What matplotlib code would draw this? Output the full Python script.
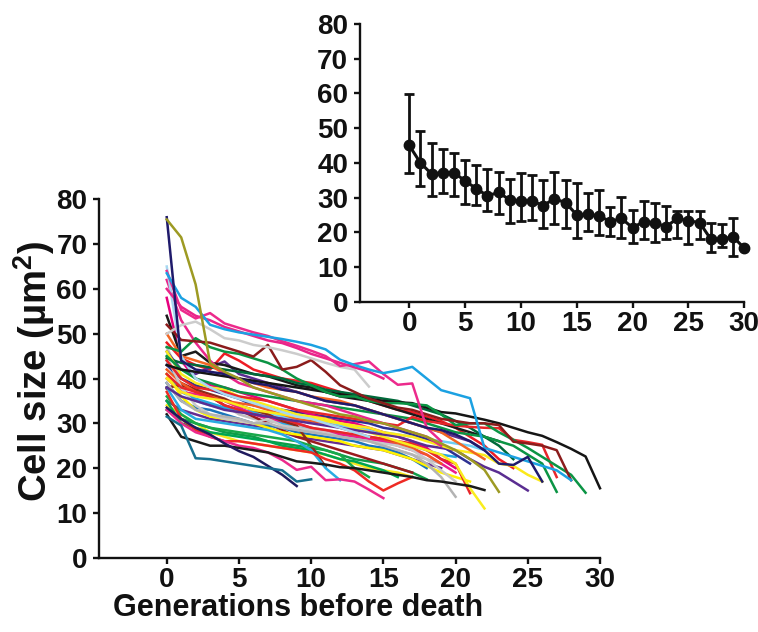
import matplotlib
matplotlib.use("Agg")
import matplotlib.pyplot as plt

plt.rcParams['font.family'] = ['Liberation Sans', 'DejaVu Sans']
plt.rcParams['font.weight'] = 'bold'
plt.rcParams['mathtext.fontset'] = 'custom'
plt.rcParams['mathtext.rm'] = 'Liberation Sans:bold'
plt.rcParams['mathtext.it'] = 'Liberation Sans:bold'
plt.rcParams['mathtext.bf'] = 'Liberation Sans:bold'

# ---------------- data: individual cell traces (size at generations before death) -------------
olive_1   = [75.5, 71.5, 61, 43.5, 41.5, 40, 38, 37, 36, 35, 34, 33, 32, 31.5, 30.5, 30, 29, 28, 27, 25.5, 24, 22, 19.6, 14.7]
navy_1    = [76, 44, 42, 41.5, 41, 40, 39, 38.5, 37.5, 37, 36, 35, 34.5, 34, 33, 32, 31, 30, 29, 28.5, 27.5, 26, 24, 21, 20.7, 22.5, 17]
cyan_1    = [63.5, 58, 56, 52, 51, 50.3, 49.8, 49.3, 48.8, 48.2, 47.5, 46.5, 44.2, 43, 42, 41.2, 41.8, 42.6, 40, 37.4, 36.5, 35.6, 24.5, 23.5, 22.5, 21.5, 20.5, 19.5, 17.3]
pink_1    = [64, 55.3, 53.4, 54.6, 52.3, 51.3, 50.3, 49.5, 48.3, 47.3, 46.2, 45, 42.8, 43.2, 43.8, 41, 38.6, 38.9, 29, 26]
pink_2    = [60, 56, 54, 53, 51.5, 50.5, 49.5, 48.5, 47.9, 46.8, 45.5, 44.5, 43.5, 42.5, 41.5, 40]
gray_1    = [50, 51.9, 52.7, 51, 49, 48.5, 47.5, 47, 46.3, 45.5, 44.5, 43.5, 42.6, 42, 38.2]
brown_1   = [52, 48.6, 48.3, 48, 47, 46, 44.9, 47.5, 42, 42.6, 44.1, 41.5, 38.5, 37, 35.5, 34.5, 33.5, 33, 32, 31, 30.5, 30, 30, 29.6, 25.9, 25.5, 25, 24, 17.3]
green_1   = [47, 46, 49, 47, 46, 45.5, 44.5, 43.5, 42, 40, 38.5, 37, 36, 36, 35, 34.5, 34.5, 34.3, 34, 32, 29.6, 30, 30, 28, 26.3, 24.5, 22.5, 20.5, 18.5, 14.5]
black_1   = [43, 42, 41.5, 41, 40.5, 40, 39.5, 39, 38.5, 38, 37.5, 37, 36.5, 36, 35.5, 35, 34.7, 34.5, 33.5, 32.5, 32.2, 31.5, 30.8, 30, 29, 28, 27.2, 25.8, 24.3, 22.6, 15.5]
teal_1    = [31.5, 29.5, 22.2, 22, 21.5, 21, 20.5, 20, 19.5, 17, 17.5]
navy_2    = [33.5, 31, 29, 27.5, 25.5, 23.8, 22.5, 20.5, 18.5, 16]
black_2   = [32, 27, 26, 25, 25, 24.5, 24, 23.5, 22.5, 21.5, 21.2, 20.8, 20.2, 20, 19.5, 19, 18.5, 18, 17.3, 17, 16.5, 16, 15.1]
pink_3    = [33, 30, 28, 27, 26, 25, 24.5, 23.5, 21.8, 19.6, 20.3, 17.3, 17.5, 17, 15.2, 13.3]
red_1     = [44, 40, 38, 37.5, 37, 36, 35.5, 35, 34, 33, 32.5, 32, 31.5, 31, 30.5, 30, 29.5, 31.4, 30.5, 30, 29.5, 29.2, 29, 28.9, 26.3, 25.8, 25.2, 18]
green_2   = [45, 42, 40, 39, 38, 37, 36.5, 36, 35.5, 35, 34.5, 34, 33.5, 33, 32.5, 32, 31.5, 31, 30, 29, 28, 27.5, 27, 26, 25, 23, 21, 14.7]
yellow_1  = [40, 37, 36, 35.5, 35, 34, 33, 32.5, 32, 31.5, 31, 30.5, 30, 29.5, 29, 28, 27.5, 27, 26, 25, 24, 23.5, 22.9, 21, 20.5, 18.5, 17]
purple_1  = [38, 36, 35, 34, 33, 32.5, 32, 31.5, 31, 30.5, 30, 29.5, 29, 28.5, 28, 27.5, 27, 26, 25, 24.5, 24, 22, 20.3, 19, 17, 15]
yellow_2  = [46, 41, 39, 38, 37.5, 36, 35, 34, 33, 32, 31.5, 31, 30, 29, 28, 27, 26, 25, 24, 23, 21, 15.5, 11]
red_2     = [41, 38, 37, 36, 34, 33, 32, 31.5, 31, 30, 29, 28.5, 28, 27.5, 27, 26.5, 26, 25.5, 24, 22, 21, 14.4]
gray_2    = [39, 35, 33, 32, 31.5, 31, 30, 30, 29, 28.5, 28, 27.5, 27, 26.5, 26, 25, 24, 23, 21, 18, 13.6]
red_3     = [37, 31, 28.5, 27, 26, 26, 25.5, 25, 24.5, 24, 23.5, 22, 21, 19.5, 17, 15, 16.6, 18]
dgreen_1  = [44.5, 43.5, 43, 42.5, 42, 41.5, 41, 40.5, 40, 39, 38.5, 37.5, 37, 36.5, 36, 35.5, 35, 34, 33, 32, 30.5, 29, 27, 25, 22]
black_3   = [54, 45, 46, 43.5, 43, 42, 41, 40.5, 39.5, 38.5, 38, 37, 36, 35.5, 35, 34, 33, 32, 31, 30, 29, 28, 27, 26]
purple_2  = [46, 42, 41, 42.5, 43.8, 41, 40, 39, 38, 37, 36, 35, 34.5, 34, 33, 32, 31, 30, 29, 28, 27, 26, 24]
red_4     = [48, 44.5, 43, 42, 45.6, 44, 42, 41, 40, 39.5, 39, 38, 37, 36, 35, 34, 33, 32.5, 31.5, 30.5, 29, 27, 25, 22, 20]
cyan_2    = [38, 33, 31, 30.5, 30, 29.5, 29, 28.5, 27.5, 26, 24, 20, 17.3]
green_3   = [36, 32, 30, 29, 28.5, 28, 27.5, 27, 26.5, 26, 25, 24, 23, 20, 18]
magenta_1 = [58, 44, 40, 38.5, 38, 37, 36, 35, 34, 33, 32, 31, 30.5, 30, 29, 28, 27, 26, 24.5, 22, 20]
gray_3    = [45, 38, 34, 32, 31, 30.5, 30, 31, 29.5, 29, 28.5, 28, 27, 26.5, 26, 25.5, 25, 24, 22, 19.5, 17]
orange_1  = [42, 39, 37, 36, 35, 34.5, 34, 33, 32, 31, 30.5, 30, 29, 28, 27, 26.5, 25.5, 24.5, 23, 21]
brown_2   = [38, 38.5, 37.5, 36.5, 35.5, 34, 33, 32, 30.5, 29.5, 25, 20.3]
yellow_3  = [41, 36, 33, 31.5, 31, 30.5, 30, 29, 28, 27.5, 27, 26.5, 26, 25, 24.5, 24, 23, 22, 20.5, 19, 18, 17]
teal_2    = [39, 35, 33.5, 33, 32, 31, 30, 29.5, 29, 28, 27.5, 27, 26.5, 26, 25, 24.5, 23.5, 22, 20]
green_4   = [35, 30, 29, 28, 27.5, 27, 26.5, 26, 25, 24.5, 24, 23, 22, 21.5, 20.5, 19.5, 18]
pink_4    = [40, 37, 36.5, 36, 35, 33.5, 32, 31, 30.5, 30, 29, 28, 27.5, 27, 26.5, 26, 25, 24, 23, 21, 19]
blue_1    = [43, 40, 38.5, 37.5, 36.5, 35.5, 34, 33.5, 33, 32.5, 32, 31.5, 31, 30.5, 30, 29, 28.5, 27.5, 26.5, 25, 23, 21]
lblue_1   = [44, 38, 35, 34, 33.5, 33, 32.5, 32, 31.5, 31, 30.5, 30, 29.5, 29, 28.5, 28, 27.5, 27, 26.5, 26, 25.5, 25, 24]
dkred_1   = [37.7, 39, 37.5, 36, 34, 33, 31.5, 30, 28.5, 27, 26, 25, 24, 23, 22, 21, 20, 19]
purple_3  = [35, 33, 32, 31, 30.5, 30, 29.5, 29, 28, 27, 26.5, 26, 25.5, 25, 24.5, 24, 23, 22, 21, 20]
gray_4    = [47, 40, 38, 36, 34, 32, 31, 30.5, 30, 29.5, 29, 28.5, 28, 27, 26, 25, 24, 23, 22, 21]
green_5   = [33, 31, 30, 29, 28, 27.5, 27, 26, 25.5, 25, 24.5, 24, 23, 22, 21.5, 21, 20, 19, 17.5]
yellow_4  = [34, 32, 30, 28, 27, 26, 25.5, 25, 24.5, 24, 23.5, 23, 22, 21, 20, 19.5, 19, 18]
orange_2  = [50, 45, 44, 43, 41, 40, 39, 38, 37.5, 37, 36, 35.5, 35, 34, 33, 32, 31, 30, 29, 28, 26, 24, 22]
cyan_3    = [41, 37, 35.5, 34.5, 33.5, 33, 32.5, 31, 30, 29, 28.5, 28, 27.5, 27, 26.5, 26, 25.5, 25, 24, 23, 22.5]
magenta_2 = [62, 53, 48, 44, 41, 39, 38, 37, 36, 35, 34.5, 34, 33, 32, 31, 30, 29, 28, 27, 25]
paleblue_1 = [65, 45, 40, 38, 36.5, 35.5, 34.5, 33.5, 32.5, 31.5, 31, 30, 29, 28, 27]

traces = [
    (lblue_1, '#6dcff6'), (gray_4, '#bdbdbd'), (yellow_4, '#f7e71c'), (green_5, '#0f9d48'),
    (purple_3, '#662d91'), (dkred_1, '#9b1b1e'), (cyan_3, '#27a9e1'), (teal_2, '#1b75bb'),
    (pink_4, '#ec1c8c'), (blue_1, '#2e3192'), (green_4, '#00a651'), (yellow_3, '#fff200'),
    (brown_2, '#8b2a1a'), (orange_1, '#f15a24'), (gray_3, '#c8c8c8'), (magenta_1, '#e6007e'),
    (green_3, '#19a84a'), (cyan_2, '#29abe2'), (red_4, '#ed1c24'), (purple_2, '#5b2c90'),
    (black_3, '#1a1a1a'), (dgreen_1, '#00693a'), (red_3, '#ee2a24'), (gray_2, '#b3b3b3'),
    (red_2, '#e8262a'), (yellow_2, '#f9ed1d'), (purple_1, '#5a2d91'), (yellow_1, '#fbe91b'),
    (green_2, '#0b9444'), (red_1, '#e8262a'), (pink_3, '#ec2a8c'), (black_2, '#1a1a1a'),
    (navy_2, '#1f1a5e'), (teal_1, '#17708f'), (orange_2, '#f26522'), (magenta_2, '#e9258a'),
    (paleblue_1, '#a7d8f0'), (black_1, '#151515'), (green_1, '#0b9444'), (brown_1, '#8b1c1c'),
    (gray_1, '#cccccc'), (pink_2, '#e9258a'), (pink_1, '#ec2a8c'), (cyan_1, '#1ba1e2'),
    (navy_1, '#1f1a6b'), (olive_1, '#9d9a23'),
]

# ---------------- data: mean +/- spread ----------------
gen_mean = list(range(0, 31))
mean_size = [45.0, 40.0, 36.8, 37.2, 37.2, 34.8, 32.6, 30.5, 31.5, 29.3, 29.0, 29.0, 27.7, 29.7, 28.5,
             25.0, 25.2, 24.7, 23.1, 24.0, 21.3, 23.1, 22.7, 21.6, 24.0, 23.3, 22.8, 18.0, 18.0, 18.7, 15.4]
err_upper = [59.8, 49.2, 45.6, 43.9, 42.7, 40.8, 39.3, 38.3, 37.4, 35.4, 37.0, 36.5, 35.1, 37.4, 35.1,
             34.1, 31.2, 32.2, 27.2, 30.1, 26.4, 29.0, 28.3, 27.6, 26.0, 26.0, 26.0, 22.6, 22.4, 24.0, 15.4]
err_lower = [37.2, 33.4, 30.5, 31.2, 30.5, 28.2, 28.0, 26.2, 25.2, 22.7, 23.3, 23.5, 21.1, 22.5, 21.1,
             18.3, 20.3, 19.1, 18.9, 18.4, 17.0, 18.0, 17.1, 18.0, 18.4, 16.6, 18.1, 14.4, 15.9, 13.2, 15.4]

yticks = [0, 10, 20, 30, 40, 50, 60, 70, 80]
xticks = [0, 5, 10, 15, 20, 25, 30]

W, H = 758, 632
fig = plt.figure(figsize=(W / 100, H / 100), dpi=100)

def style(ax, xleft):
    ax.set_xlim(xleft, 30)
    ax.set_ylim(0, 80)
    ax.set_xticks(xticks)
    ax.set_yticks(yticks)
    for s in ('top', 'right'):
        ax.spines[s].set_visible(False)
    for s in ('left', 'bottom'):
        ax.spines[s].set_linewidth(1.7)
        ax.spines[s].set_color('#111111')
    ax.tick_params(axis='both', direction='out', length=4.5, width=1.7, color='#111111',
                   labelsize=20, labelcolor='#111111')
    ax.tick_params(axis='y', pad=4)
    ax.tick_params(axis='x', pad=2)
    for lab in ax.get_xticklabels() + ax.get_yticklabels():
        lab.set_fontweight('bold')

# main axes
ax = fig.add_axes([99.3 / W, (H - 557.7) / H, 500.7 / W, 358.4 / H])
style(ax, -4.67)
for ys, c in traces:
    ax.plot(range(len(ys)), ys, color=c, lw=1.8, solid_joinstyle='round', clip_on=False)
ax.set_ylabel('Cell size (µm$^{2}$)', fontsize=27.5, fontweight='bold', color='#111111')
ax.yaxis.set_label_coords((57 - 99.3) / 500.7, (557.7 - 371) / 358.4)
ax.set_xlabel('Generations before death', fontsize=22, fontweight='bold', color='#111111')
ax.xaxis.set_label_coords((298 - 99.3) / 500.7, -(593 - 557.7) / 358.4)

# inset axes
ins = fig.add_axes([360 / W, (H - 301.7) / H, 384.3 / W, 277.7 / H])
style(ins, -4.41)
lo = [m - l for m, l in zip(mean_size, err_lower)]
hi = [u - m for m, u in zip(mean_size, err_upper)]
ins.errorbar(gen_mean, mean_size, yerr=[lo, hi], color='#111111', lw=2.2, marker='o', ms=7.5,
             capsize=3.5, capthick=2.0, elinewidth=2.0, clip_on=False)

fig.savefig('out.png', dpi=100)
